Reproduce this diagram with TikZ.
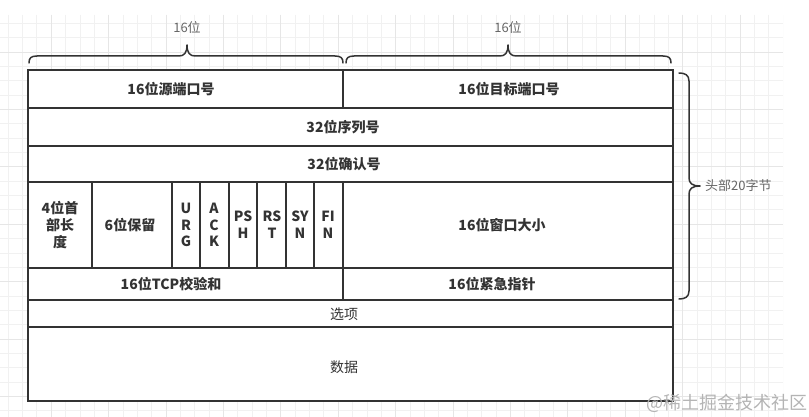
\documentclass[tikz,border=0pt]{standalone}
\usepackage{fontspec}
\setmainfont{Noto Sans CJK SC}
\definecolor{linec}{HTML}{333333}
\definecolor{txtc}{HTML}{333333}
\definecolor{labc}{HTML}{666666}
\definecolor{gridminor}{HTML}{F1F1F1}
\definecolor{gridmajor}{HTML}{E6E6E6}
\definecolor{wmc}{HTML}{B4B4B4}
\begin{document}
\begin{tikzpicture}[x=1pt,y=-1pt,
  tline/.style={draw=linec, line width=1.5pt},
  bt/.style={font=\fontsize{14}{16.7}\selectfont\bfseries, text=txtc, inner sep=0pt, align=center},
  rt/.style={font=\fontsize{14}{16.7}\selectfont, text=txtc, inner sep=0pt},
  lab/.style={font=\fontsize{13}{15}\selectfont, text=labc, inner sep=0pt},
  wm/.style={font=\fontsize{18}{20}\selectfont, text=wmc, inner sep=0pt},
  brace/.style={draw=linec, line width=1.5pt, line join=round, line cap=round}]
\useasboundingbox (0,0) rectangle (809,417);
\fill[white] (0,0) rectangle (809,417);
% background grid
\begin{scope}
  \clip (0,15) rectangle (783,417);
  \foreach \i in {-52,...,3}
    \draw[gridminor, line width=0.8pt] ({740+14.35*\i},15) -- ({740+14.35*\i},417);
  \foreach \k in {-3,...,26}
    \draw[gridminor, line width=0.8pt] (0,{52+14.35*\k}) -- (783,{52+14.35*\k});
  \foreach \i in {-52,-48,...,0}
    \draw[gridmajor, line width=0.8pt] ({740+14.35*\i},15) -- ({740+14.35*\i},417);
  \foreach \k in {-4,0,...,24}
    \draw[gridmajor, line width=0.8pt] (0,{52+14.35*\k}) -- (783,{52+14.35*\k});
\end{scope}
% table
\fill[white] (28,70) rectangle (673,401);
\draw[tline] (28,70) rectangle (673,401);
\foreach \y in {108,146,182,268,300,327}
  \draw[tline] (28,\y) -- (673,\y);
\draw[tline] (343,70) -- (343,108);
\draw[tline] (343,182) -- (343,300);
\foreach \x in {92,172,200,229,257,286,314}
  \draw[tline] (\x,182) -- (\x,268);
% texts
\node[bt] (srcport) at (171,89) {16位源端口号};
\node[bt] (dstport) at (509,89) {16位目标端口号};
\node[bt] (seq) at (343,127) {32位序列号};
\node[bt] (ack) at (344,164) {32位确认号};
\node[bt] (hlen) at (60,225) {4位首\\部长\\度};
\node[bt] (resv) at (130,225) {6位保留};
\node[bt] (urg) at (186,225) {U\\R\\G};
\node[bt] (ackf) at (214,225) {A\\C\\K};
\node[bt] (psh) at (243,225) {PS\\H};
\node[bt] (rst) at (272,225) {RS\\T};
\node[bt] (syn) at (300,225) {SY\\N};
\node[bt] (fin) at (328,225) {FI\\N};
\node[bt] (win) at (502,225) {16位窗口大小};
\node[bt] (csum) at (171,284) {16位TCP校验和};
\node[bt] (urgp) at (492,284) {16位紧急指针};
\node[rt] (opt) at (344,314) {选项};
\node[rt] (data) at (344,367) {数据};
% braces
\draw[brace] (29,63) .. controls (29,58) and (31,56) .. (37,56) -- (179,56)
  .. controls (184,56) and (187,53) .. (187,45)
  .. controls (187,53) and (190,56) .. (195,56) -- (335,56)
  .. controls (341,56) and (343,58) .. (343,63);
\draw[brace] (346,63) .. controls (346,58) and (348,56) .. (354,56) -- (500,56)
  .. controls (505,56) and (508,53) .. (508,45)
  .. controls (508,53) and (511,56) .. (516,56) -- (663,56)
  .. controls (669,56) and (671,58) .. (671,63);
\draw[brace] (679,73) .. controls (685,73) and (689,75) .. (689,81) -- (689,178)
  .. controls (689,183) and (692,186) .. (700,186)
  .. controls (692,186) and (689,189) .. (689,194) -- (689,291)
  .. controls (689,297) and (685,299) .. (679,299);
\node[lab] (l1) at (187,28) {16位};
\node[lab] (l2) at (508,28) {16位};
\node[lab, anchor=west] (l3) at (705,186) {头部20字节};
\node[wm] (wmark) at (727,403) {@稀土掘金技术社区};
\end{tikzpicture}
\end{document}
